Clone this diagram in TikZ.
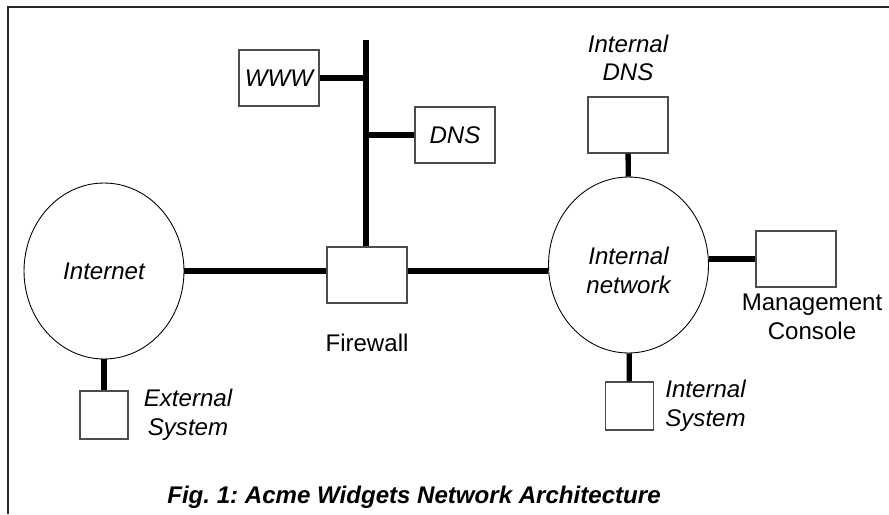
\documentclass[tikz,border=0pt]{standalone}
\usepackage{fontspec}
\setmainfont{Liberation Sans}
\usetikzlibrary{positioning,shapes.geometric}

\tikzset{
  box/.style={draw=black!70,line width=0.6pt,minimum width=1.6cm,minimum height=1.12cm,inner sep=0pt},
  smallbox/.style={box,minimum width=0.96cm,minimum height=0.96cm},
  lan/.style={ellipse,draw,line width=0.5pt,minimum width=3.2cm,minimum height=3.52cm,inner sep=0pt,align=center,font=\itshape},
  bus/.style={line width=3pt},
  lbl/.style={align=center,inner sep=0pt},
  frame/.style={line width=0.6pt,draw=black!85}
}

\begin{document}
\frenchspacing
\fontsize{13.7}{16.4}\selectfont
\begin{tikzpicture}[x=0.02cm,y=-0.02cm]
    \useasboundingbox (0,0) rectangle (889,514);
    \draw[frame] (8,514) -- (8,7) -- (889,7);

    \node[lan]                (net_ext) at (104,271)   {Internet};
    \node[lan]                (net_int) at (628.5,265) {\\Internal\\network};
    \node[box]                (fw)      at (367,275)   {};
    \node[box,font=\itshape]  (www)     at (279,78)    {WWW};
    \node[box,font=\itshape]  (dns)     at (455,135)   {DNS};
    \node[box]                (dns_int) at (628,125)   {};
    \node[box]                (mgmt)    at (796,259)   {};
    \node[smallbox]           (sys_int) at (629.5,406) {};
    \node[smallbox]           (sys_ext) at (104,415)   {};
    \coordinate               (bb_top)  at (366,40);

    \node[lbl]                (fw_lbl)      [below=0.6cm of fw]       {Firewall};
    \node[lbl,font=\itshape]  (dns_int_lbl) [above=0.3cm of dns_int]  {Internal\\DNS};
    \node[lbl,xshift=0.32cm]  (mgmt_lbl)    [below=0.12cm of mgmt]    {Management\\Console};
    \node[lbl,font=\itshape]  (sys_int_lbl) [right=0.22cm of sys_int] {Internal\\System};
    \node[lbl,font=\itshape]  (sys_ext_lbl) [right=0.3cm of sys_ext]  {External\\System};
    \node[font=\bfseries\itshape,anchor=base] (caption) at (414,503)
        {Fig. 1: Acme Widgets Network Architecture};

    % backbone and links
    \draw[bus] (bb_top) -- (bb_top |- fw.north);
    \draw[bus] (www.east) -- (www.east -| bb_top);
    \draw[bus] (dns.west) -- (dns.west -| bb_top);
    \draw[bus] (net_ext.east) -- (net_ext.east -| fw.west);
    \draw[bus] (fw.east |- net_ext.east) -- (net_int.west |- net_ext.east);
    \draw[bus] (net_int.east |- mgmt.west) -- (mgmt.west);
    \path[bus] (dns_int) edge (net_int)
               (net_int) edge (sys_int)
               (net_ext) edge (sys_ext);
\end{tikzpicture}
\end{document}
